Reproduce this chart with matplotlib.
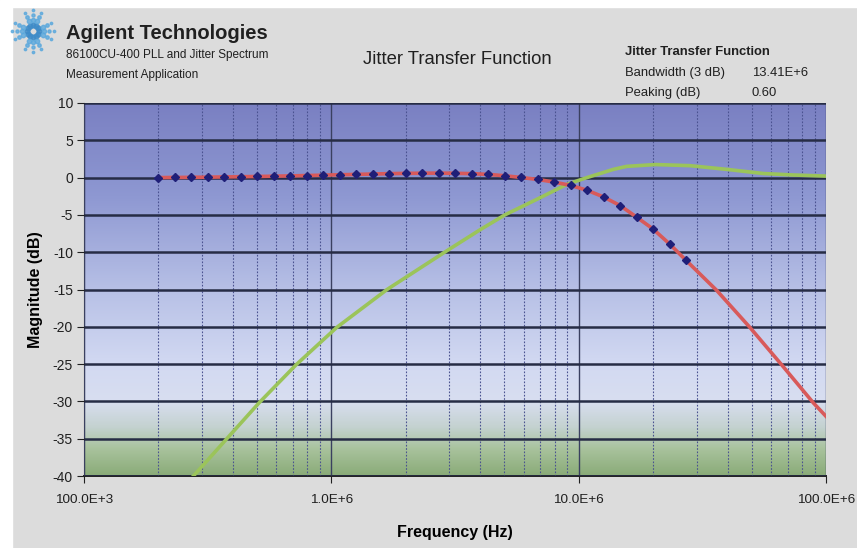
import numpy as np
import matplotlib.pyplot as plt
from matplotlib.colors import LinearSegmentedColormap
from matplotlib.ticker import FixedLocator, LogLocator, NullFormatter

# 測定点（青い菱形）: 2E+5 から 1/15 デケード刻み
meas_freq = [2e5 * 10 ** (k / 15) for k in range(33)]
meas_db = [0.00, 0.02, 0.04, 0.06, 0.09, 0.12, 0.15, 0.19, 0.23, 0.28,
           0.33, 0.38, 0.43, 0.48, 0.53, 0.57, 0.59, 0.60, 0.58, 0.53,
           0.43, 0.25, 0.02, -0.25, -0.60, -1.05, -1.70, -2.60, -3.75, -5.30,
           -6.90, -8.90, -11.10]

# フィット曲線（赤）: 測定点の先を延長
fit_freq = meas_freq + [36.1e6, 49.3e6, 66.2e6, 88.9e6, 100e6]
fit_db = meas_db + [-15.1, -20.1, -25.1, -30.2, -32.0]

# 緑の曲線
green_freq = [2.0e5, 2.77e5, 3.78e5, 5.10e5, 7.20e5, 1.05e6, 1.68e6, 2.84e6,
              3.99e6, 5.03e6, 6.98e6, 8.96e6, 10.8e6, 13.8e6, 15.6e6, 20.4e6,
              28.2e6, 39.8e6, 55.7e6, 73.6e6, 100e6]
green_db = [-44.9, -40.0, -35.0, -30.2, -25.1, -20.1, -15.0, -10.1,
            -7.0, -5.0, -2.7, -0.9, 0.0, 1.1, 1.5, 1.75,
            1.6, 1.1, 0.55, 0.35, 0.2]

y_ticks = [10, 5, 0, -5, -10, -15, -20, -25, -30, -35, -40]
x_ticks = [1e5, 1e6, 1e7, 1e8]
x_labels = ['100.0E+3', '1.0E+6', '10.0E+6', '100.0E+6']

plt.rcParams['font.family'] = ['Liberation Sans', 'DejaVu Sans']
plt.rcParams['axes.unicode_minus'] = False

fig = plt.figure(figsize=(8.57, 5.48), dpi=100)
fig.patch.set_facecolor('#dcdcdc')

# 左と上の白い縁
fig.add_artist(plt.Rectangle((0, 0), 12 / 857, 1, transform=fig.transFigure,
                             color='white', zorder=0))
fig.add_artist(plt.Rectangle((0, 1 - 7 / 548), 1, 7 / 548, transform=fig.transFigure,
                             color='white', zorder=0))

ax = fig.add_axes([84 / 857, 1 - 476 / 548, 742 / 857, 373 / 548])

# 背景のグラデーション
cmap = LinearSegmentedColormap.from_list('bg', [
    (0.00, '#7a80c2'),
    (0.25, '#8e98d2'),
    (0.50, '#b7c0e6'),
    (0.70, '#d2d9f2'),
    (0.80, '#d8def0'),
    (0.87, '#c4d2d0'),
    (0.93, '#a8c29c'),
    (1.00, '#8aab78'),
])
grad = np.linspace(0, 1, 256).reshape(-1, 1)
ax.imshow(grad, cmap=cmap, aspect='auto', extent=[0, 1, 0, 1],
          transform=ax.transAxes, zorder=0)

ax.set_xscale('log')
ax.set_xlim(1e5, 1e8)
ax.set_ylim(-40, 10)

# グリッド
ax.xaxis.set_major_locator(FixedLocator(x_ticks))
ax.xaxis.set_minor_locator(LogLocator(base=10, subs=np.arange(2, 10)))
ax.xaxis.set_minor_formatter(NullFormatter())
ax.set_xticklabels(x_labels)
ax.set_yticks(y_ticks)
ax.grid(which='major', axis='y', color='#262c45', linewidth=1.8, zorder=1)
ax.grid(which='major', axis='x', color='#3a4060', linewidth=1.0, zorder=1)
ax.grid(which='minor', axis='x', color='#4a5290', linewidth=0.8,
        linestyle=(0, (1.5, 1.5)), zorder=1)
ax.set_axisbelow(False)

ax.plot(green_freq, green_db, color='#9bc45a', linewidth=2.6, zorder=3)
ax.plot(fit_freq, fit_db, color='#d85a5a', linewidth=2.6, zorder=4)
ax.plot(meas_freq, meas_db, linestyle='none', marker='D', markersize=4.5,
        color='#1f1f78', zorder=5)

for side in ['top', 'right']:
    ax.spines[side].set_visible(False)
ax.spines['left'].set_color('#404040')
ax.spines['bottom'].set_color('#202020')
ax.spines['bottom'].set_linewidth(1.4)

ax.tick_params(axis='y', which='major', length=5, direction='out',
               labelsize=10, colors='#202020', pad=3)
ax.tick_params(axis='x', which='major', length=5, direction='out',
               labelsize=9.7, colors='#202020', pad=8)
ax.tick_params(axis='x', which='minor', length=0)

ax.set_xlabel('Frequency (Hz)', fontsize=11.5, fontweight='bold', labelpad=14)
ax.set_ylabel('Magnitude (dB)', fontsize=11.5, fontweight='bold', labelpad=7)

# ヘッダー
fig.text(66 / 857, 1 - 39 / 548, 'Agilent Technologies', fontsize=14.5,
         fontweight='bold', color='#202020')
fig.text(66 / 857, 1 - 58 / 548, '86100CU-400 PLL and Jitter Spectrum',
         fontsize=8.5, color='#202020')
fig.text(66 / 857, 1 - 78 / 548, 'Measurement Application',
         fontsize=8.5, color='#202020')
fig.text(457 / 857, 1 - 64 / 548, 'Jitter Transfer Function', fontsize=13.3,
         color='#202020', ha='center')

fig.text(625 / 857, 1 - 55 / 548, 'Jitter Transfer Function', fontsize=9.4,
         fontweight='bold', color='#202020')
fig.text(625 / 857, 1 - 76 / 548, 'Bandwidth (3 dB)', fontsize=9.4, color='#202020')
fig.text(752 / 857, 1 - 76 / 548, '13.41E+6', fontsize=9.4, color='#202020')
fig.text(625 / 857, 1 - 96 / 548, 'Peaking (dB)', fontsize=9.4, color='#202020')
fig.text(752 / 857, 1 - 96 / 548, '0.60', fontsize=9.4, color='#202020')

# ロゴ（スパーク）
logo = fig.add_axes([8 / 857, 1 - 56 / 548, 50 / 857, 50 / 548])
logo.set_xlim(-25, 25)
logo.set_ylim(-25, 25)
logo.axis('off')
ang12 = np.linspace(0, 2 * np.pi, 12, endpoint=False)
logo.scatter(6 * np.cos(ang12), 6 * np.sin(ang12), s=12, color='#3f8cc8', alpha=0.85)
ang8 = np.linspace(0, 2 * np.pi, 8, endpoint=False) + np.pi / 8
for r, s in [(11, 10), (15.5, 6), (20, 3)]:
    logo.scatter(r * np.cos(ang8), r * np.sin(ang8), s=s, color='#5aa8dc', alpha=0.8)
ang4 = np.linspace(0, 2 * np.pi, 4, endpoint=False)
for r, s in [(11, 9), (16, 5), (21, 3)]:
    logo.scatter(r * np.cos(ang4), r * np.sin(ang4), s=s, color='#5aa8dc', alpha=0.8)

fig.savefig('out.png', dpi=100, facecolor=fig.get_facecolor())
